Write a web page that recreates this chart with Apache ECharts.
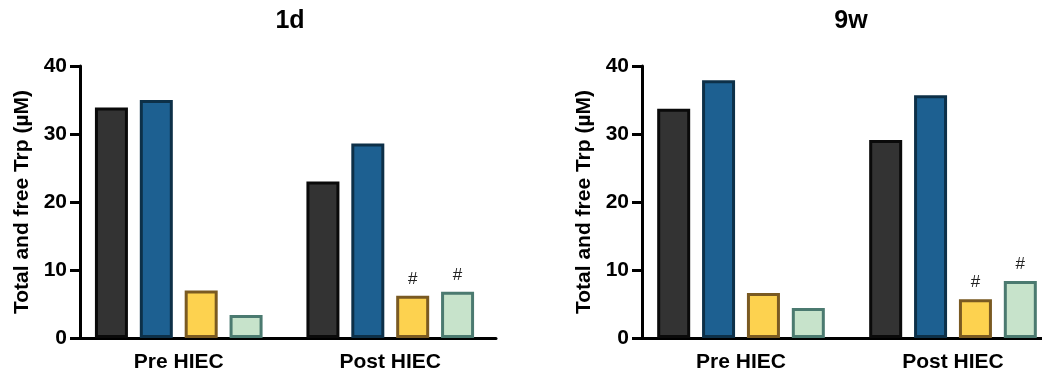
<!DOCTYPE html>
<html>
<head>
<meta charset="utf-8">
<script src="https://cdn.jsdelivr.net/npm/echarts@6/dist/echarts.min.js"></script>
<style>
  html, body { margin: 0; padding: 0; background: #fff; }
  #chart { width: 1042px; height: 378px; }
</style>
</head>
<body>
<div id="chart"></div>
<script>
// 数据
const categories = ['Pre HIEC', 'Post HIEC'];
const panelTitles = ['1d', '9w'];
const yTicks = [0, 10, 20, 30, 40];

// 1d
const d1Black = [33.9, 23.0];
const d1Blue = [35.0, 28.6];
const d1Yellow = [7.0, 6.2];
const d1Green = [3.4, 6.8];
// 9w
const w9Black = [33.7, 29.1];
const w9Blue = [37.9, 35.7];
const w9Yellow = [6.6, 5.7];
const w9Green = [4.4, 8.4];

// 显著性标记 (# 只在 Post HIEC 的黄/绿柱)
const hashMarks = ['', '#'];

const font = "'Liberation Sans', Arial, sans-serif";

const styles = [
  { color: '#333333', borderColor: '#0a0a0a' },
  { color: '#1d6091', borderColor: '#0d3048' },
  { color: '#fdd24f', borderColor: '#7a5a22' },
  { color: '#c7e3cb', borderColor: '#4b7a70' },
];

function withMarks(values) {
  return values.map((v, i) => ({
    value: v,
    label: {
      show: hashMarks[i] !== '',
      formatter: hashMarks[i],
      position: 'top',
      distance: 8,
      color: '#222',
      fontSize: 17,
      fontFamily: font,
    },
  }));
}

function makeSeries(idx, sets) {
  return sets.map((vals, k) => ({
    type: 'bar',
    xAxisIndex: idx,
    yAxisIndex: idx,
    barWidth: 33,
    barGap: '36%',
    barCategoryGap: '20%',
    itemStyle: {
      color: styles[k].color,
      borderColor: styles[k].borderColor,
      borderWidth: 3,
    },
    data: k >= 2 ? withMarks(vals) : vals,
  }));
}

function xAxis(idx) {
  return {
    type: 'category',
    gridIndex: idx,
    data: categories,
    axisLine: { lineStyle: { color: '#000', width: 3 } },
    axisTick: { alignWithLabel: true, length: 10, lineStyle: { color: '#000', width: 3 } },
    axisLabel: { color: '#000', fontSize: 21, fontWeight: 'bold', fontFamily: font, margin: 14 },
  };
}

// y轴向右挪 7px，让分组中心和原图对齐
function yAxis(idx) {
  return {
    type: 'value',
    gridIndex: idx,
    offset: -7,
    min: yTicks[0],
    max: yTicks[yTicks.length - 1],
    interval: 10,
    name: 'Total and free Trp (µM)',
    nameLocation: 'middle',
    nameGap: 47,
    nameTextStyle: { color: '#000', fontSize: 21, fontWeight: 'bold', fontFamily: font },
    axisLine: { show: true, lineStyle: { color: '#000', width: 3 } },
    axisTick: { show: true, length: 10, lineStyle: { color: '#000', width: 3 } },
    axisLabel: { color: '#000', fontSize: 21, fontWeight: 'bold', fontFamily: font, margin: 13 },
    splitLine: { show: false },
  };
}

const myChart = echarts.init(document.getElementById('chart'));

const option = {
  backgroundColor: '#fff',
  animation: false,
  title: [
    {
      text: panelTitles[0], left: 285, top: 4, textAlign: 'center',
      textStyle: { fontSize: 25, fontWeight: 'bold', color: '#000', fontFamily: font },
    },
    {
      text: panelTitles[1], left: 846, top: 4, textAlign: 'center',
      textStyle: { fontSize: 25, fontWeight: 'bold', color: '#000', fontFamily: font },
    },
  ],
  grid: [
    { left: 73, width: 423, top: 66, bottom: 40 },
    // 右图的最后一柱贴着画布右边缘，网格需要超出画布
    { left: 635, width: 424, top: 66, bottom: 40, outerBoundsMode: 'none' },
  ],
  xAxis: [xAxis(0), xAxis(1)],
  yAxis: [yAxis(0), yAxis(1)],
  series: [
    ...makeSeries(0, [d1Black, d1Blue, d1Yellow, d1Green]),
    ...makeSeries(1, [w9Black, w9Blue, w9Yellow, w9Green]),
  ],
};

myChart.setOption(option);
</script>
</body>
</html>
